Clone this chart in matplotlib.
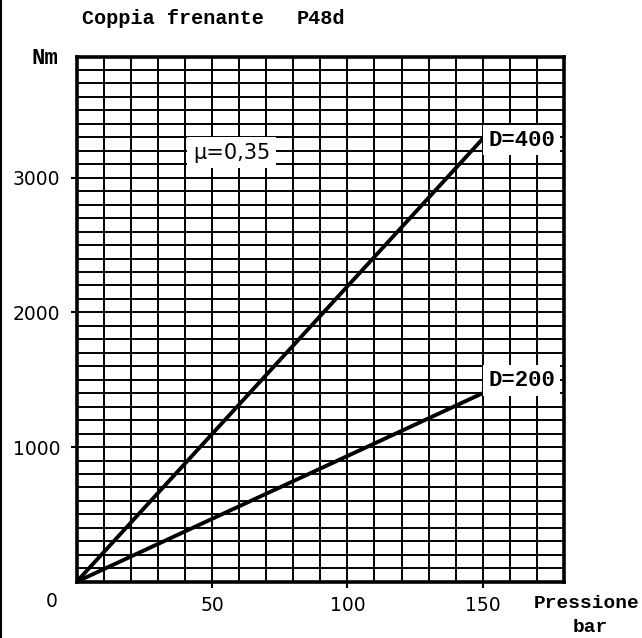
import matplotlib
matplotlib.use("Agg")
import matplotlib.pyplot as plt
from matplotlib.ticker import MultipleLocator
from matplotlib.lines import Line2D

# Data
pressure = [0, 150]            # bar
torque_D400 = [0, 3290]        # Nm
torque_D200 = [0, 1400]        # Nm
x_ticks = [50, 100, 150]
x_tick_labels = ["50", "100", "150"]
y_ticks = [1000, 2000, 3000]
y_tick_labels = ["1000", "2000", "3000"]
series_labels = ["D=400", "D=200"]
mu_label = "\u03bc=0,35"

W, H = 642, 638
fig = plt.figure(figsize=(W / 100, H / 100), dpi=100)
fig.patch.set_facecolor("white")

left, right = 76.7 / W, 564 / W
bottom, top = (H - 581.7) / H, (H - 56.5) / H
ax = fig.add_axes([left, bottom, right - left, top - bottom])

ax.set_xlim(0, 180)
ax.set_ylim(0, 3900)

ax.xaxis.set_minor_locator(MultipleLocator(10))
ax.yaxis.set_minor_locator(MultipleLocator(100))
ax.set_xticks(x_ticks)
ax.set_xticklabels(x_tick_labels)
ax.set_yticks(y_ticks)
ax.set_yticklabels(y_tick_labels)
ax.grid(which="both", color="black", linewidth=1.4, zorder=0)
ax.set_axisbelow(True)

for s in ax.spines.values():
    s.set_linewidth(2.6)
    s.set_color("black")

ax.tick_params(which="minor", length=0)
ax.tick_params(which="major", direction="out", length=4, width=1.5,
               colors="black")
ax.tick_params(axis="y", which="major", pad=8)
ax.tick_params(axis="x", which="major", pad=6)
for lab in ax.get_xticklabels() + ax.get_yticklabels():
    lab.set_fontfamily("DejaVu Sans")
    lab.set_fontsize(13.5)

ax.plot(pressure, torque_D400, color="black", linewidth=2.8, zorder=3,
        solid_capstyle="round")
ax.plot(pressure, torque_D200, color="black", linewidth=2.8, zorder=3,
        solid_capstyle="round")

serif_bold = dict(family="Liberation Mono", fontweight="bold", color="black")

box = dict(facecolor="white", edgecolor="none", pad=3.5)
ax.annotate(series_labels[0], xy=(pressure[-1], torque_D400[-1]),
            xytext=(4, -1), textcoords="offset points",
            ha="left", va="center", fontsize=16, bbox=box, zorder=4,
            **serif_bold)
ax.annotate(series_labels[1], xy=(pressure[-1], torque_D200[-1]),
            xytext=(4, 9), textcoords="offset points",
            ha="left", va="center", fontsize=16, bbox=box, zorder=4,
            **serif_bold)
ax.text(43, 3185, mu_label, ha="left", va="center", fontsize=15,
        family="DejaVu Sans", color="black",
        bbox=dict(facecolor="white", edgecolor="none", pad=4), zorder=4)

# "0" label at origin
ax.annotate("0", xy=(0, 0), xytext=(-18, -14), textcoords="offset points",
            ha="center", va="center", fontsize=13.5, family="DejaVu Sans",
            color="black")

# Title and axis labels
fig.text(82 / W, 1 - 18 / H, "Coppia frenante", ha="left", va="center",
         fontsize=14.5, **serif_bold)
fig.text(297 / W, 1 - 18 / H, "P48d", ha="left", va="center",
         fontsize=14.5, **serif_bold)
fig.text(45 / W, 1 - 58 / H, "Nm", ha="center", va="center",
         fontsize=16, **serif_bold)
fig.text(587 / W, 1 - 603 / H, "Pressione", ha="center", va="center",
         fontsize=14, **serif_bold)
fig.text(590 / W, 1 - 627 / H, "bar", ha="center", va="center",
         fontsize=14, **serif_bold)

# Left frame line
fig.add_artist(Line2D([1.5 / W, 1.5 / W], [0, 1], color="black",
                      linewidth=1.5, transform=fig.transFigure))

fig.savefig("out.png", dpi=100, facecolor="white")
